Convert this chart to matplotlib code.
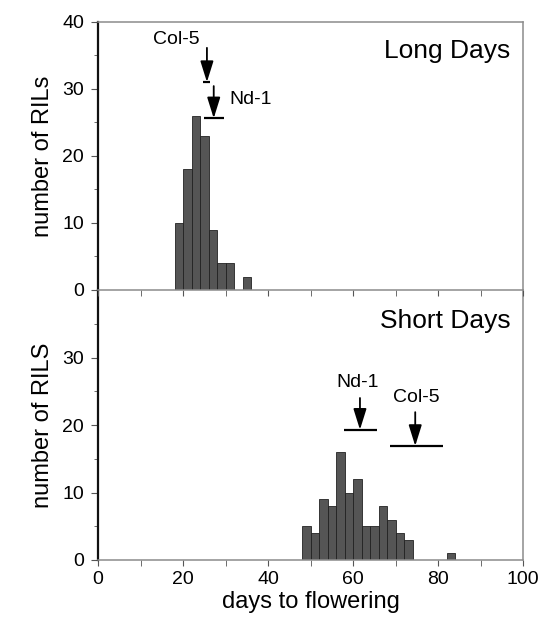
import numpy as np
import matplotlib
matplotlib.use("Agg")
import matplotlib.pyplot as plt
from matplotlib.ticker import MultipleLocator

plt.rcParams['font.family'] = ['Liberation Sans', 'DejaVu Sans']

# Long days histogram (2-day bins, left edges)
ld_bin_left = [18, 20, 22, 24, 26, 28, 30, 32, 34]
ld_counts = [10, 18, 26, 23, 9, 4, 4, 0, 2]

# Short days histogram
sd_bin_left = [48, 50, 52, 54, 56, 58, 60, 62, 64, 66, 68, 70, 72, 82]
sd_counts = [5, 4, 9, 8, 16, 10, 12, 5, 5, 8, 6, 4, 3, 1]
BIN_W = 2

# parental lines: name, mean, range low, range high, bar level, arrow start, label x, label y
ld_parents = [
    ('Col-5', 25.6, 24.7, 26.4, 31.0, 36.1, 18.5, 37.3),
    ('Nd-1', 27.2, 25.0, 29.5, 25.6, 30.4, 35.8, 28.4),
]
sd_parents = [
    ('Nd-1', 61.6, 57.9, 65.5, 19.3, 24.0, 61.1, 26.3),
    ('Col-5', 74.6, 68.7, 81.1, 16.9, 21.9, 74.8, 24.0),
]

BAR_FC = '#555555'
BAR_EC = '#222222'
SPINE_GRAY = '#8c8c8c'


def style_axes(ax, show_xlabels, ymax_label):
    ax.set_xlim(0, 100)
    ax.set_ylim(0, 40)
    ax.xaxis.set_major_locator(MultipleLocator(20))
    ax.xaxis.set_minor_locator(MultipleLocator(10))
    ax.yaxis.set_major_locator(MultipleLocator(10))
    ax.yaxis.set_minor_locator(MultipleLocator(5))
    ax.tick_params(axis='both', which='both', direction='out', labelsize=14,
                   color='#555555')
    ax.tick_params(axis='x', which='both', length=4, pad=4, labelbottom=show_xlabels)
    ax.tick_params(axis='y', which='major', length=5, pad=5)
    ax.tick_params(axis='y', which='minor', length=3)
    ticks = [0, 10, 20, 30, 40] if ymax_label else [0, 10, 20, 30]
    ax.set_yticks(ticks)
    for side in ('top', 'right', 'bottom'):
        ax.spines[side].set_color(SPINE_GRAY)
        ax.spines[side].set_linewidth(1.1)
    ax.spines['left'].set_color('#111111')
    ax.spines['left'].set_linewidth(1.6)


def draw_parents(ax, parents):
    for name, mean, lo, hi, level, start, lx, ly in parents:
        ax.hlines(level, lo, hi, color='k', lw=1.6)
        ax.annotate('', xy=(mean, level), xytext=(mean, start),
                    arrowprops=dict(arrowstyle='-|>,head_length=0.8,head_width=0.25',
                                    color='k', lw=1.3, mutation_scale=16,
                                    shrinkA=0, shrinkB=0))
        ax.text(lx, ly, name, ha='center', va='center', fontsize=14)


fig = plt.figure(figsize=(5.45, 6.25), dpi=100)
ax_bot = fig.add_axes([0.180, 0.104, 0.780, 0.432])
ax_top = fig.add_axes([0.180, 0.536, 0.780, 0.4293])
ax_top.set_zorder(3)
ax_top.patch.set_alpha(0)

ax_top.bar(ld_bin_left, ld_counts, width=BIN_W, align='edge',
           color=BAR_FC, edgecolor=BAR_EC, linewidth=0.6, zorder=2)
ax_bot.bar(sd_bin_left, sd_counts, width=BIN_W, align='edge',
           color=BAR_FC, edgecolor=BAR_EC, linewidth=0.6, zorder=2)

style_axes(ax_top, False, True)
style_axes(ax_bot, True, False)
ax_bot.spines['top'].set_visible(False)

draw_parents(ax_top, ld_parents)
draw_parents(ax_bot, sd_parents)

ax_top.text(97, 35.6, 'Long Days', ha='right', va='center', fontsize=19)
ax_bot.text(97, 35.4, 'Short Days', ha='right', va='center', fontsize=19)

ax_top.set_ylabel('number of RILs', fontsize=17, labelpad=6)
ax_bot.set_ylabel('number of RILS', fontsize=17, labelpad=6)
ax_bot.set_xlabel('days to flowering', fontsize=17, labelpad=2)

fig.savefig('out.png', dpi=100)
